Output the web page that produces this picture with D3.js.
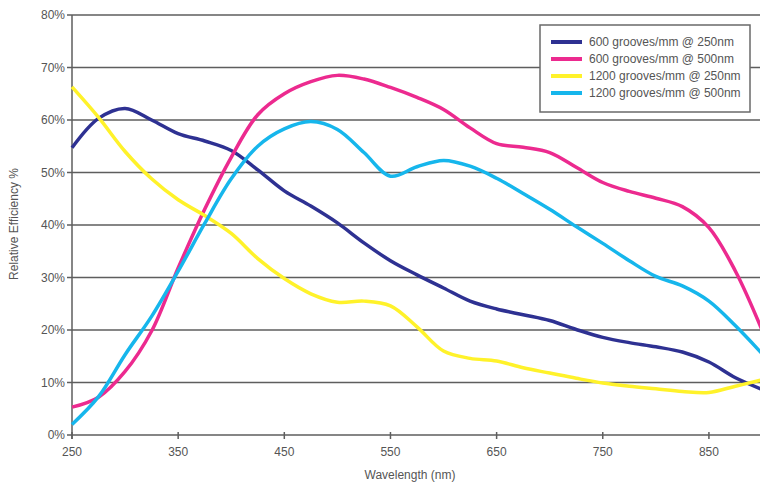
<!DOCTYPE html>
<html>
<head>
<meta charset="utf-8">
<script src="https://cdn.jsdelivr.net/npm/d3@7"></script>
<style>
  html, body { margin: 0; padding: 0; background: #fff; }
  svg { display: block; font-family: "Liberation Sans", Arial, sans-serif; }
</style>
</head>
<body>
<div id="chart"></div>
<script>
// wavelengths (nm), sampled every 25 nm
var wavelengths = [250, 275, 300, 325, 350, 375, 400, 425, 450, 475, 500, 525, 550, 575, 600,
                   625, 650, 675, 700, 725, 750, 775, 800, 825, 850, 875, 900];

// relative efficiency (%) per grating
var g600at250 = [54.7, 60.3, 62.2, 60.0, 57.4, 56.0, 54.2, 50.5, 46.5, 43.6, 40.4, 36.6, 33.2, 30.5, 28.0,
                 25.5, 24.0, 22.9, 21.8, 20.1, 18.6, 17.6, 16.8, 15.8, 13.9, 10.9, 8.7];
var g600at500 = [5.3, 7.2, 12.1, 19.8, 31.8, 43.0, 52.9, 61.0, 65.0, 67.3, 68.5, 67.8, 66.2, 64.3, 62.0,
                 58.5, 55.5, 54.8, 53.8, 51.0, 48.1, 46.4, 45.1, 43.5, 39.5, 31.2, 20.0];
var g1200at250 = [66.3, 60.5, 54.0, 48.8, 44.8, 41.8, 38.4, 33.6, 29.8, 26.9, 25.3, 25.5, 24.6, 20.6, 16.0,
                  14.6, 14.1, 12.8, 11.8, 10.8, 9.9, 9.3, 8.8, 8.3, 8.1, 9.3, 10.5];
var g1200at500 = [2.0, 7.3, 15.3, 22.6, 31.2, 40.3, 48.8, 55.0, 58.3, 59.7, 58.2, 53.8, 49.3, 51.1, 52.3,
                  51.2, 48.9, 46.0, 43.0, 39.7, 36.5, 33.2, 30.2, 28.4, 25.5, 20.8, 15.5];

var seriesNames = ["600 grooves/mm @ 250nm", "600 grooves/mm @ 500nm",
                   "1200 grooves/mm @ 250nm", "1200 grooves/mm @ 500nm"];
var seriesColors = ["#2e3192", "#ec2a8f", "#fff22a", "#16b6ec"];
var seriesValues = [g600at250, g600at500, g1200at250, g1200at500];

var xTicks = [250, 350, 450, 550, 650, 750, 850];
var yTicks = [0, 10, 20, 30, 40, 50, 60, 70, 80];

var W = 760, H = 485;
var margin = {top: 15, right: -2, bottom: 50, left: 72};

var svg = d3.select("#chart").append("svg")
    .attr("width", W).attr("height", H);

var x = d3.scaleLinear().domain([250, 900]).range([margin.left, W - margin.right]);
var y = d3.scaleLinear().domain([0, 80]).range([H - margin.bottom, margin.top]);

var gridColor = "#5e5e5e";
var textColor = "#555";

// horizontal gridlines
svg.append("g")
    .selectAll("line").data(yTicks).join("line")
    .attr("x1", x(250) - 5).attr("x2", W)
    .attr("y1", d => y(d)).attr("y2", d => y(d))
    .attr("stroke", gridColor).attr("stroke-width", 1.5);

// y axis line
svg.append("line")
    .attr("x1", x(250)).attr("x2", x(250))
    .attr("y1", y(80)).attr("y2", y(0) + 4)
    .attr("stroke", gridColor).attr("stroke-width", 1.5);

// y tick labels
svg.append("g")
    .selectAll("text").data(yTicks).join("text")
    .attr("x", x(250) - 7).attr("y", d => y(d) + 4)
    .attr("text-anchor", "end")
    .attr("font-size", 12).attr("fill", textColor)
    .text(d => d + "%");

// x axis ticks and labels
svg.append("g")
    .selectAll("line").data(xTicks).join("line")
    .attr("x1", d => x(d)).attr("x2", d => x(d))
    .attr("y1", y(0) - 3).attr("y2", y(0) + 4)
    .attr("stroke", gridColor).attr("stroke-width", 1.5);

svg.append("g")
    .selectAll("text").data(xTicks).join("text")
    .attr("x", d => x(d)).attr("y", y(0) + 21)
    .attr("text-anchor", "middle")
    .attr("font-size", 12).attr("fill", textColor)
    .text(d => d);

// axis titles
svg.append("text")
    .attr("x", 410).attr("y", 479)
    .attr("text-anchor", "middle")
    .attr("font-size", 12).attr("fill", textColor)
    .text("Wavelength (nm)");

svg.append("text")
    .attr("transform", "translate(18,224) rotate(-90)")
    .attr("text-anchor", "middle")
    .attr("font-size", 12).attr("fill", textColor)
    .text("Relative Efficiency %");

// curves
var line = d3.line()
    .x((d, i) => x(wavelengths[i]))
    .y(d => y(d))
    .curve(d3.curveCatmullRom.alpha(0.5));

svg.append("g")
    .selectAll("path").data(seriesValues).join("path")
    .attr("d", d => line(d))
    .attr("fill", "none")
    .attr("stroke", (d, i) => seriesColors[i])
    .attr("stroke-width", 3.5)
    .attr("stroke-linejoin", "round");

// legend
var legend = svg.append("g").attr("transform", "translate(540,25)");
legend.append("rect")
    .attr("width", 210).attr("height", 87)
    .attr("fill", "#fff")
    .attr("stroke", "#6a6a6a").attr("stroke-width", 1.5);

var rows = legend.selectAll("g.row").data(seriesNames).join("g")
    .attr("class", "row")
    .attr("transform", (d, i) => "translate(0," + (17 + i * 17) + ")");
rows.append("line")
    .attr("x1", 11).attr("x2", 42)
    .attr("stroke", (d, i) => seriesColors[i])
    .attr("stroke-width", 4);
rows.append("text")
    .attr("x", 49).attr("y", 4)
    .attr("font-size", 12).attr("fill", textColor)
    .text(d => d);
</script>
</body>
</html>
